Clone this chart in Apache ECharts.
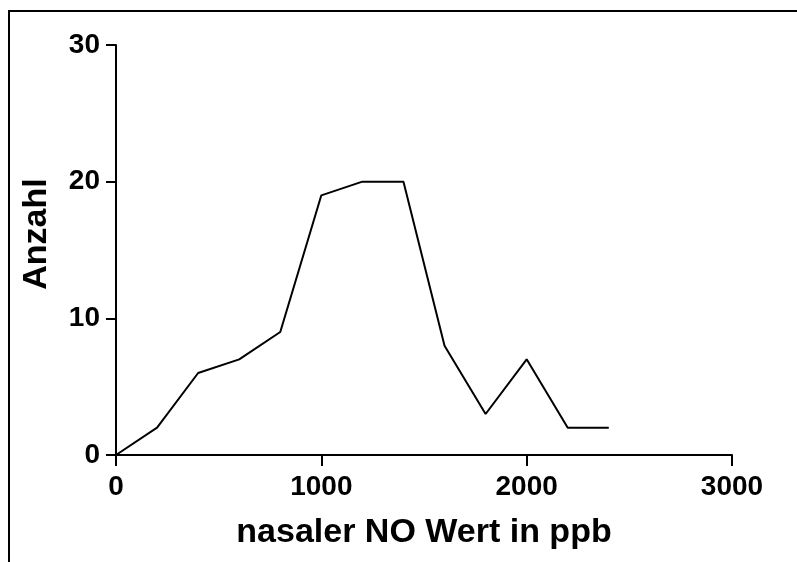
<!DOCTYPE html>
<html>
<head>
<meta charset="utf-8">
<script src="https://cdn.jsdelivr.net/npm/echarts@6/dist/echarts.min.js"></script>
<style>
html,body{margin:0;padding:0;background:#fff;}
#chart{width:797px;height:562px;}
</style>
</head>
<body>
<div id="chart"></div>
<script>
const noValues = [0, 200, 400, 600, 800, 1000, 1200, 1400, 1600, 1800, 2000, 2200, 2400];
const counts = [0, 2, 6, 7, 9, 19, 20, 20, 8, 3, 7, 2, 2];
const xTicks = [0, 1000, 2000, 3000];
const yTicks = [0, 10, 20, 30];
const xName = 'nasaler NO Wert in ppb';
const yName = 'Anzahl';

const FONT = '"Liberation Sans", Arial, sans-serif';
const chart = echarts.init(document.getElementById('chart'), null, {renderer: 'canvas'});
const axisCommon = {
  axisLine: {show: true, lineStyle: {color: '#000', width: 2}},
  axisTick: {show: true, length: 10, lineStyle: {color: '#000', width: 2}},
  splitLine: {show: false},
  axisLabel: {color: '#000', fontSize: 28, fontWeight: 'bold', fontFamily: FONT, formatter: v => String(v)},
  nameTextStyle: {color: '#000', fontSize: 34, fontWeight: 'bold', fontFamily: FONT}
};
chart.setOption({
  animation: false,
  backgroundColor: '#fff',
  grid: {left: 116, top: 45, right: 65, bottom: 107, containLabel: false},
  graphic: [
    {type: 'line', shape: {x1: 9, y1: 11, x2: 797, y2: 11}, style: {stroke: '#000', lineWidth: 2}},
    {type: 'line', shape: {x1: 9, y1: 10, x2: 9, y2: 562}, style: {stroke: '#000', lineWidth: 2}}
  ],
  xAxis: Object.assign({}, axisCommon, {
    type: 'value', min: xTicks[0], max: xTicks[xTicks.length - 1], interval: xTicks[1] - xTicks[0],
    name: xName, nameLocation: 'middle', nameGap: 61,
    axisTick: {show: true, length: 11, lineStyle: {color: '#000', width: 2}},
    axisLabel: Object.assign({}, axisCommon.axisLabel, {margin: 18})
  }),
  yAxis: Object.assign({}, axisCommon, {
    type: 'value', min: yTicks[0], max: yTicks[yTicks.length - 1], interval: yTicks[1] - yTicks[0],
    name: yName, nameLocation: 'middle', nameGap: 62,
    axisLabel: Object.assign({}, axisCommon.axisLabel, {margin: 16}),
    nameTextStyle: Object.assign({}, axisCommon.nameTextStyle, {padding: [0, 0, 0, 32]})
  }),
  series: [{
    type: 'line',
    data: noValues.map((v, i) => [v, counts[i]]),
    showSymbol: false,
    symbol: 'none',
    lineStyle: {color: '#000', width: 2},
    itemStyle: {color: '#000'}
  }]
});
</script>
</body>
</html>
